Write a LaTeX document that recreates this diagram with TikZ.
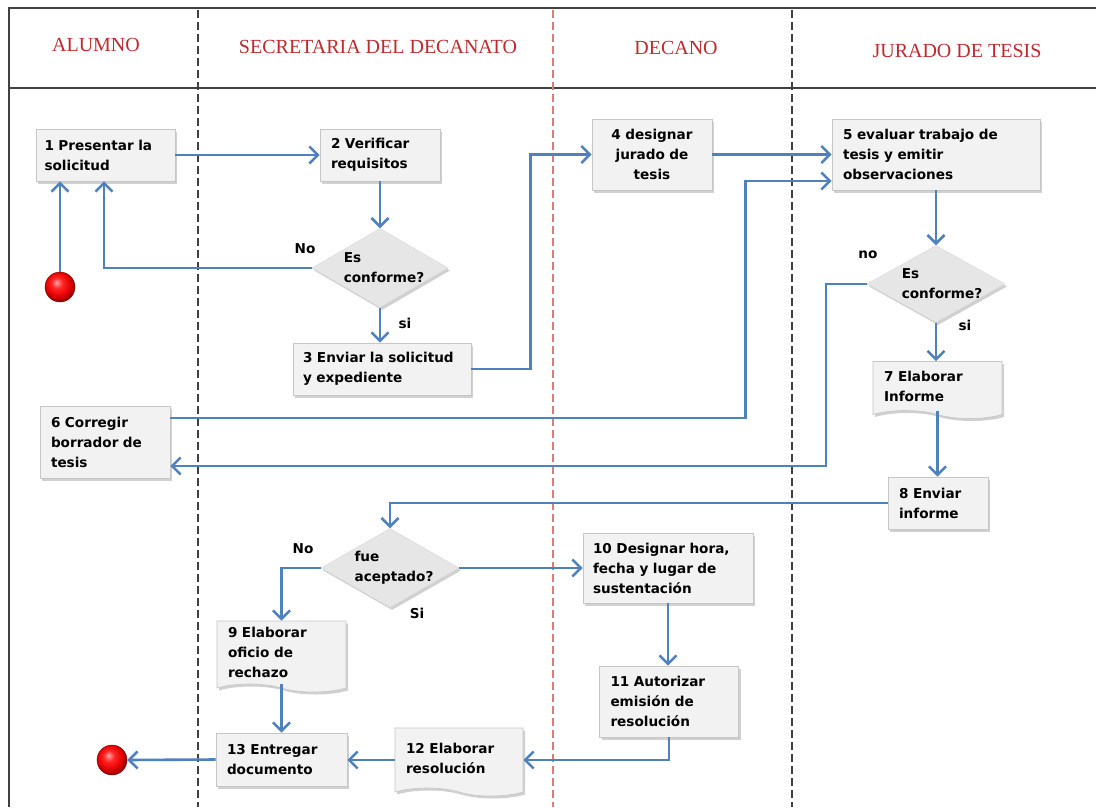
\documentclass[tikz,border=0pt]{standalone}
\usepackage{fontspec}
\usetikzlibrary{arrows.meta,shapes.geometric,shapes.symbols,shadows}
\newfontfamily\boxfont{DejaVu Sans}
\newfontfamily\headfont{Liberation Serif}
\definecolor{flowblue}{HTML}{4F81BD}
\definecolor{headred}{HTML}{BE2A2F}
\definecolor{lanered}{HTML}{E07A7A}
\definecolor{boxfill}{HTML}{F2F2F2}
\definecolor{boxline}{HTML}{C6C6C6}
\definecolor{decfill}{HTML}{E6E6E6}
% red sphere with an off-centre highlight
\pgfdeclareradialshading{redball}{\pgfpoint{-6bp}{8bp}}{%
  color(0bp)=(red!35!white); color(9bp)=(red!85!white); color(20bp)=(red!90!black);
  color(27bp)=(red!60!black); color(50bp)=(red!60!black)}

\begin{document}
\begin{tikzpicture}[x=1pt,y=-1pt,
  frame/.style={line width=1.6pt, draw=black!75},
  lane/.style={line width=1.2pt, dash pattern=on 8pt off 4pt},
  head/.style={font=\headfont\fontsize{20}{23}\selectfont, text=headred, inner sep=0pt},
  boxshadow/.style={drop shadow={shadow xshift=2pt, shadow yshift=-2.5pt, opacity=.3, fill=black!60}},
  txt/.style={font=\boxfont\bfseries\fontsize{13.6}{20}\selectfont},
  proc/.style={txt, rectangle, fill=boxfill, draw=boxline, line width=.6pt, boxshadow, align=left, inner xsep=11pt, inner ysep=2pt},
  doc/.style={proc, tape, tape bend top=none, tape bend bottom=out and in, tape bend height=8pt},
  % the shape size comes from the minimum sizes alone
  dec/.style={txt, diamond, aspect=1.75, fill=decfill, draw=boxline!70, line width=.4pt, boxshadow, align=left, inner xsep=-15pt, inner ysep=-10pt},
  ball/.style={circle, minimum size=30pt, inner sep=0pt, shading=redball, draw=red!45!black, line width=.4pt},
  flow/.style={draw=flowblue, line width=2.6pt, -{Straight Barb[length=8.5pt,width=17pt]}},
  lbl/.style={txt, inner sep=0pt}
]
% canvas
\fill[white] (0,0) rectangle (1096,807);
\useasboundingbox (0,0) rectangle (1096,807);

% swimlane frame
\draw[frame] (1096,8) -- (9,8) -- (9,807);
\draw[frame] (9,88) -- (1096,88);
\draw[lane, draw=black!75] (198,10) -- (198,807);
\draw[lane, draw=lanered] (553,10) -- (553,807);
\draw[lane, draw=black!75] (792,10) -- (792,807);

% lane headings
\node[head] (hA) at (96,45) {ALUMNO};
\node[head] (hS) at (378,47) {SECRETARIA DEL DECANATO};
\node[head] (hD) at (676,48) {DECANO};
\node[head] (hJ) at (957,51) {JURADO DE TESIS};

% start / end
\node[ball] (st) at (60,287) {};
\node[ball] (en) at (112,760) {};

% activities
\node[proc, minimum height=52pt, text width=122pt, inner xsep=8.5pt] (b1) at (105.5,155) {1 Presentar la\\solicitud};
\node[proc, minimum height=52pt, text width=98pt] (b2) at (380,155) {2 Verificar\\requisitos};
\node[dec, minimum width=136pt, minimum height=79pt] (d1) at (380,268) {\hspace*{8pt}Es\\\hspace*{8pt}conforme?};
\node[proc, minimum height=52pt, text width=158pt, inner xsep=10pt] (b3) at (382,369) {3 Enviar la solicitud\\y expediente};
\node[proc, minimum height=71pt, text width=98pt, align=center] (b4) at (652,154.5) {4 designar\\jurado de\\tesis};
\node[proc, minimum height=71pt, text width=186pt] (b5) at (936,154.5) {5 evaluar trabajo de\\tesis y emitir\\observaciones};
\node[dec, minimum width=138pt, minimum height=77pt] (d2) at (936,284) {\hspace*{12pt}Es\\\hspace*{12pt}conforme?};
\node[doc, minimum height=57pt, text width=107pt] (b7) at (937.5,386) {7 Elaborar\\Informe};
\node[proc, minimum height=52pt, text width=78pt] (b8) at (938,503) {8 Enviar\\informe};
\node[proc, minimum height=72pt, text width=108pt] (b6) at (105,442) {6 Corregir\\borrador de\\tesis};
\node[dec, minimum width=138pt, minimum height=79pt] (d3) at (390,568) {\hspace*{8pt}fue\\\hspace*{8pt}aceptado?};
\node[doc, minimum height=71pt, text width=107pt] (b9) at (281.5,652.5) {9 Elaborar\\oficio de\\rechazo};
\node[proc, minimum height=70pt, text width=150pt, inner xsep=10pt] (b10) at (668,568) {10 Designar hora,\\fecha y lugar de\\sustentación};
\node[proc, minimum height=71pt, text width=117pt] (b11) at (669,701.5) {11 Autorizar\\emisión de\\resolución};
\node[doc, minimum height=68pt, text width=106pt] (b12) at (459,758) {12 Elaborar\\resolución};
\node[proc, minimum height=53pt, text width=109pt] (b13) at (281.5,759.5) {13 Entregar\\documento};

% branch labels
\node[lbl] (n1) at (305,249) {No};
\node[lbl] (s1) at (405,323) {si};
\node[lbl] (n2) at (868,255) {no};
\node[lbl] (s2) at (965,325) {si};
\node[lbl] (n3) at (303,549) {No};
\node[lbl] (s3) at (417,613) {Si};

% flow
\draw[flow] (st.north) -- (st.north |- b1.south);
\draw[flow] (b1.east) -- (b2.west);
\draw[flow] (b2.south) -- (d1.north);
\draw[flow] (d1.west) -| ([xshift=-1.5pt]b1.south);
\draw[flow] (d1.south) -- (d1.south |- b3.north);
\draw[flow] (b3.east) -- ++(59,0) |- (b4.west);
\draw[flow] (b4.east) -- (b5.west);
\draw[flow] ([yshift=24pt]b6.east) -| ([xshift=-86pt,yshift=-26.5pt]b5.west) -- ([yshift=-26.5pt]b5.west);
\draw[flow] (b5.south) -- (d2.north);
\draw[flow] (d2.west) -- ++(-41,0) |- ([yshift=-24pt]b6.east);
\draw[flow] (d2.south) -- (d2.south |- b7.north);
\draw[flow] (b7.south) -- (b7.south |- b8.north);
\draw[flow] (b8.west) -| (d3.north);
\draw[flow] (d3.west) -| (b9.north);
\draw[flow] (d3.east) -- (b10.west);
\draw[flow] (b10.south) -- (b10.south |- b11.north);
\draw[flow] (b11.south) |- ([yshift=-2pt]b12.east);
\draw[flow] ([yshift=-2pt]b12.west) -- ([yshift=-2pt]b12.west -| b13.east);
\draw[flow] (b9.south) -- (b13.north);
\draw[flow] (b13.west) -- (en.east);
\end{tikzpicture}
\end{document}
